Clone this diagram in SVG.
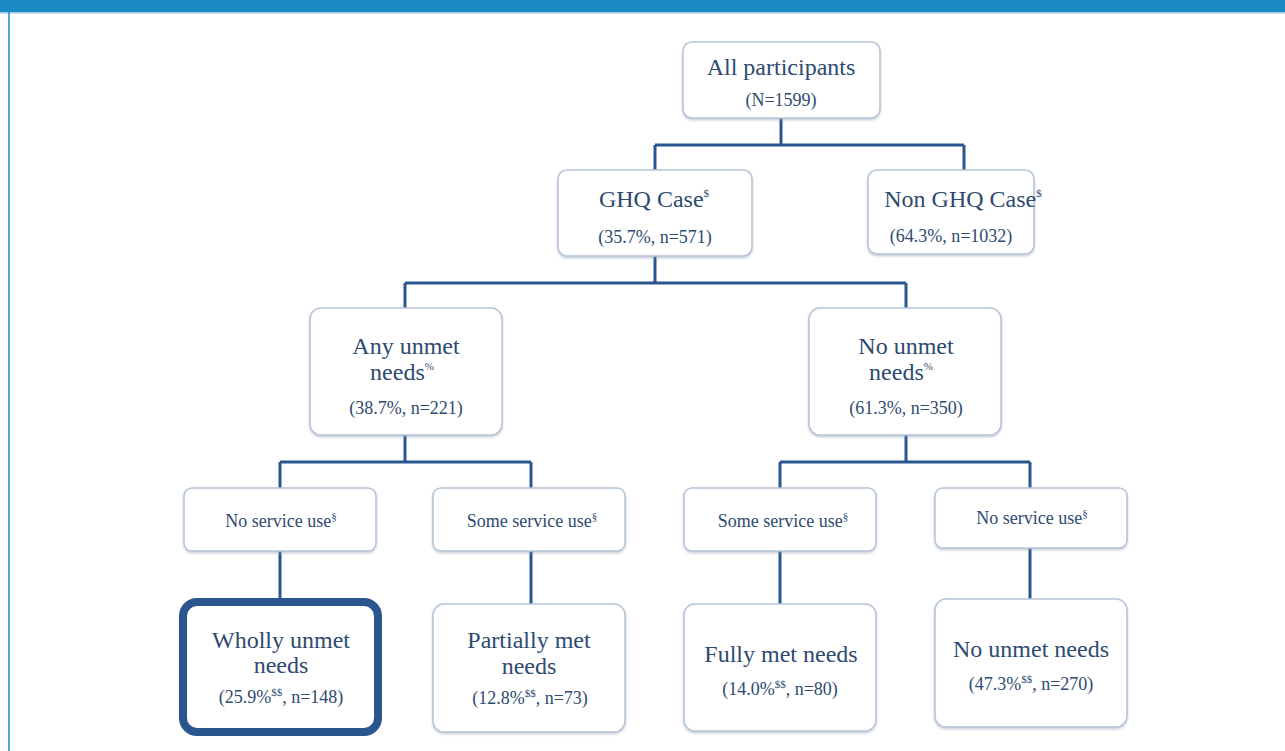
<svg xmlns="http://www.w3.org/2000/svg" width="1285" height="751" viewBox="0 0 1285 751">
<defs>
<filter id="sh" x="-10%" y="-10%" width="120%" height="130%">
<feDropShadow dx="0" dy="1.5" stdDeviation="1.2" flood-color="#8a9ab0" flood-opacity="0.5"/>
</filter>
</defs>
<style>
.box{fill:#ffffff;stroke:#b7c5d8;stroke-width:1.5;filter:url(#sh)}
.hl{fill:#ffffff;stroke:#2a5690;stroke-width:8}
.t{fill:#2e4a70;text-anchor:middle}
.big{font-size:24px}
.mid{font-size:18px}
.sm{font-size:18px}
.sup{font-size:11px}
.conn{fill:none;stroke:#2a5690;stroke-width:3}
</style>
<rect x="0" y="0" width="1285" height="751" fill="#ffffff"/>
<rect x="0" y="0" width="1285" height="12" fill="#1b8ac2"/>
<rect x="0" y="12" width="1285" height="1.5" fill="#9fcde6"/>
<line x1="9" y1="12" x2="9" y2="751" stroke="#1b8ac2" stroke-width="1.5"/>

<g id="connectors">
<path class="conn" d="M781,118 V145 M655,145 H964 M655,145 V170 M964,145 V170"/>
<path class="conn" d="M655,256 V283 M405,283 H906 M405,283 V308 M906,283 V308"/>
<path class="conn" d="M405,435 V462 M280,462 H531 M280,462 V488 M531,462 V488"/>
<path class="conn" d="M906,435 V462 M780,462 H1030 M780,462 V488 M1030,462 V488"/>
<path class="conn" d="M280,551 V600 M531,551 V604 M780,551 V604 M1030,548 V599"/>
</g>

<g id="n-all">
<rect class="box" x="683" y="42" width="197" height="76" rx="9"/>
<text class="t big" font-family="Liberation Serif, serif" x="781" y="75">All participants</text>
<text class="t mid" font-family="Liberation Serif, serif" x="781" y="106">(N=1599)</text>
</g>

<g id="n-ghq">
<rect class="box" x="558" y="170" width="194" height="86" rx="9"/>
<text class="t big" font-family="Liberation Serif, serif" x="654" y="207">GHQ Case<tspan class="sup" dy="-10">$</tspan></text>
<text class="t mid" font-family="Liberation Serif, serif" x="655" y="243">(35.7%, n=571)</text>
</g>

<g id="n-nonghq">
<rect class="box" x="868" y="170" width="166" height="84" rx="9"/>
<text class="t big" font-family="Liberation Serif, serif" x="963" y="207">Non GHQ Case<tspan class="sup" dy="-10">$</tspan></text>
<text class="t mid" font-family="Liberation Serif, serif" x="951" y="242">(64.3%, n=1032)</text>
</g>

<g id="n-any">
<rect class="box" x="310" y="308" width="192" height="127" rx="11"/>
<text class="t big" font-family="Liberation Serif, serif" x="406" y="354">Any unmet</text>
<text class="t big" font-family="Liberation Serif, serif" x="402" y="380">needs<tspan class="sup" dy="-10">%</tspan></text>
<text class="t mid" font-family="Liberation Serif, serif" x="406" y="414">(38.7%, n=221)</text>
</g>

<g id="n-nounmet">
<rect class="box" x="809" y="308" width="192" height="127" rx="11"/>
<text class="t big" font-family="Liberation Serif, serif" x="906" y="354">No unmet</text>
<text class="t big" font-family="Liberation Serif, serif" x="901" y="380">needs<tspan class="sup" dy="-10">%</tspan></text>
<text class="t mid" font-family="Liberation Serif, serif" x="906" y="414">(61.3%, n=350)</text>
</g>

<g id="n-noservice1">
<rect class="box" x="184" y="488" width="192" height="63" rx="8"/>
<text class="t sm" font-family="Liberation Serif, serif" x="281" y="527">No service use<tspan class="sup" dy="-7">§</tspan></text>
</g>

<g id="n-someservice1">
<rect class="box" x="433" y="488" width="192" height="63" rx="8"/>
<text class="t sm" font-family="Liberation Serif, serif" x="532" y="527">Some service use<tspan class="sup" dy="-7">§</tspan></text>
</g>

<g id="n-someservice2">
<rect class="box" x="684" y="488" width="192" height="63" rx="8"/>
<text class="t sm" font-family="Liberation Serif, serif" x="783" y="527">Some service use<tspan class="sup" dy="-7">§</tspan></text>
</g>

<g id="n-noservice2">
<rect class="box" x="935" y="488" width="192" height="60" rx="8"/>
<text class="t sm" font-family="Liberation Serif, serif" x="1032" y="524">No service use<tspan class="sup" dy="-7">§</tspan></text>
</g>

<g id="n-wholly">
<rect class="hl" x="183" y="602" width="195" height="130" rx="14"/>
<text class="t big" font-family="Liberation Serif, serif" x="281" y="648">Wholly unmet</text>
<text class="t big" font-family="Liberation Serif, serif" x="281" y="673">needs</text>
<text class="t mid" font-family="Liberation Serif, serif" x="281" y="703">(25.9%<tspan class="sup" dy="-7">$$</tspan><tspan dy="7">, n=148)</tspan></text>
</g>

<g id="n-partial">
<rect class="box" x="433" y="604" width="192" height="128" rx="11"/>
<text class="t big" font-family="Liberation Serif, serif" x="529" y="648">Partially met</text>
<text class="t big" font-family="Liberation Serif, serif" x="529" y="674">needs</text>
<text class="t mid" font-family="Liberation Serif, serif" x="530" y="704">(12.8%<tspan class="sup" dy="-7">$$</tspan><tspan dy="7">, n=73)</tspan></text>
</g>

<g id="n-fully">
<rect class="box" x="684" y="604" width="192" height="127" rx="11"/>
<text class="t big" font-family="Liberation Serif, serif" x="781" y="662">Fully met needs</text>
<text class="t mid" font-family="Liberation Serif, serif" x="780" y="695">(14.0%<tspan class="sup" dy="-7">$$</tspan><tspan dy="7">, n=80)</tspan></text>
</g>

<g id="n-nounmetfinal">
<rect class="box" x="935" y="599" width="192" height="128" rx="11"/>
<text class="t big" font-family="Liberation Serif, serif" x="1031" y="657">No unmet needs</text>
<text class="t mid" font-family="Liberation Serif, serif" x="1031" y="690">(47.3%<tspan class="sup" dy="-7">$$</tspan><tspan dy="7">, n=270)</tspan></text>
</g>
</svg>
